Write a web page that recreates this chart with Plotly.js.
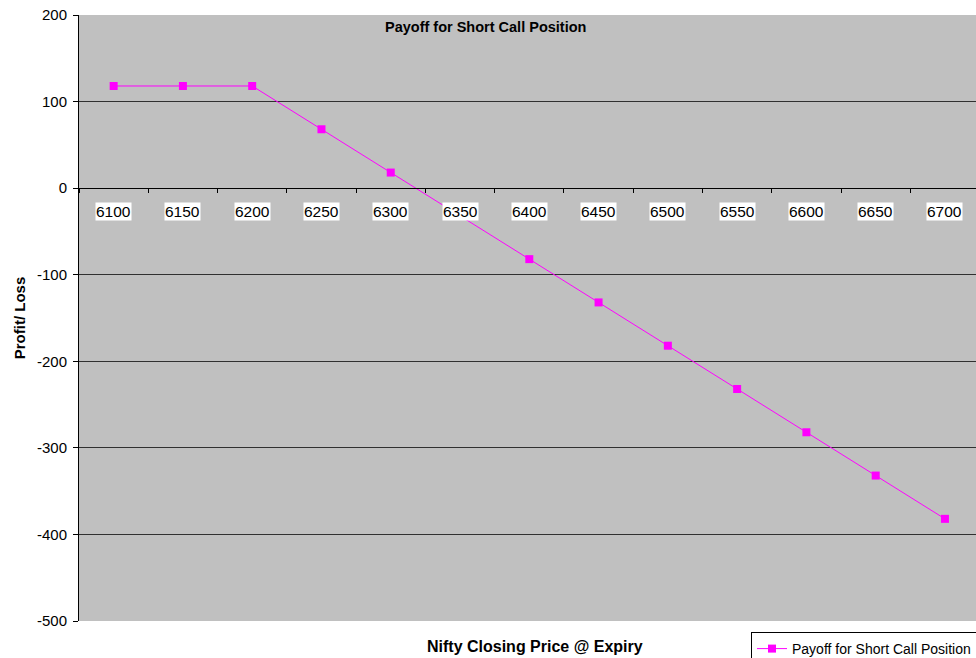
<!DOCTYPE html>
<html>
<head>
<meta charset="utf-8">
<script src="https://cdn.plot.ly/plotly-3.0.1.min.js"></script>
<style>html,body{margin:0;padding:0;background:#fff;}#chart{width:976px;height:658px;}</style>
</head>
<body>
<div id="chart"></div>
<script>
const categories = ["6100","6150","6200","6250","6300","6350","6400","6450","6500","6550","6600","6650","6700"];
const payoff = [118,118,118,68,18,-32,-82,-132,-182,-232,-282,-332,-382];
const yTickVals = [-500,-400,-300,-200,-100,0,100,200];
const yTickText = ["-500","-400","-300","-200","-100","0","100","200"];
const seriesName = "Payoff for Short Call Position";
const chartTitle = "Payoff for Short Call Position";
const xTitle = "Nifty Closing Price @ Expiry";
const yTitle = "Profit/ Loss";

const font = "Liberation Sans, Arial, sans-serif";

const tickAnnotations = categories.map((c, i) => ({
  x: i, y: 0, xref: 'x', yref: 'y',
  text: c, showarrow: false,
  yanchor: 'middle', yshift: -23,
  bgcolor: '#ffffff', borderpad: 0,
  font: {family: font, size: 15.5, color: '#000'}
}));

const data = [{
  x: categories, y: payoff, type: 'scatter', mode: 'lines+markers',
  name: seriesName,
  line: {color: '#FF00FF', width: 1},
  marker: {symbol: 'square', size: 8, color: '#FF00FF'}
}];

const layout = {
  width: 976, height: 658,
  margin: {l: 79, r: 0, t: 15, b: 37, autoexpand: false},
  paper_bgcolor: '#ffffff', plot_bgcolor: '#C0C0C0',
  font: {family: font, size: 15, color: '#000'},
  showlegend: true,
  legend: {x: (751 - 79) / 897, y: (621 - 632) / 606,
    xanchor: 'left', yanchor: 'top',
    bordercolor: '#000', borderwidth: 1, bgcolor: '#fff',
    font: {family: font, size: 14, color: '#000'}, itemwidth: 30, tracegroupgap: 0},
  xaxis: {
    type: 'category', range: [-0.5, 12.448],
    anchor: 'free', position: 5/7,
    showline: true, linecolor: '#000', linewidth: 1,
    ticks: 'outside', ticklen: 4, tickcolor: '#000', tickson: 'boundaries',
    showticklabels: false, showgrid: false, zeroline: false,
    fixedrange: true
  },
  yaxis: {
    range: [-500, 200], tickmode: 'array', tickvals: yTickVals, ticktext: yTickText,
    showline: true, linecolor: '#000', linewidth: 1,
    ticks: 'outside', ticklen: 5, tickcolor: '#000', ticklabelstandoff: 3,
    showgrid: true, gridcolor: '#303030', gridwidth: 1, zeroline: false,
    tickfont: {family: font, size: 15, color: '#000'},
    title: {text: yTitle, font: {family: font, size: 15, color: '#000', weight: 'bold'}, standoff: 7}
  },
  annotations: [
    {text: '<b>' + chartTitle + '</b>', xref: 'paper', yref: 'paper', x: 0.453, y: 0.9797,
     yanchor: 'middle', showarrow: false, font: {family: font, size: 14.5, color: '#000'}},
    {text: '<b>' + xTitle + '</b>', xref: 'paper', yref: 'paper', x: 0.508, y: -0.0429,
     yanchor: 'middle', showarrow: false, font: {family: font, size: 16, color: '#000'}}
  ].concat(tickAnnotations)
};

Plotly.newPlot('chart', data, layout, {displayModeBar: false, staticPlot: true});
</script>
</body>
</html>
